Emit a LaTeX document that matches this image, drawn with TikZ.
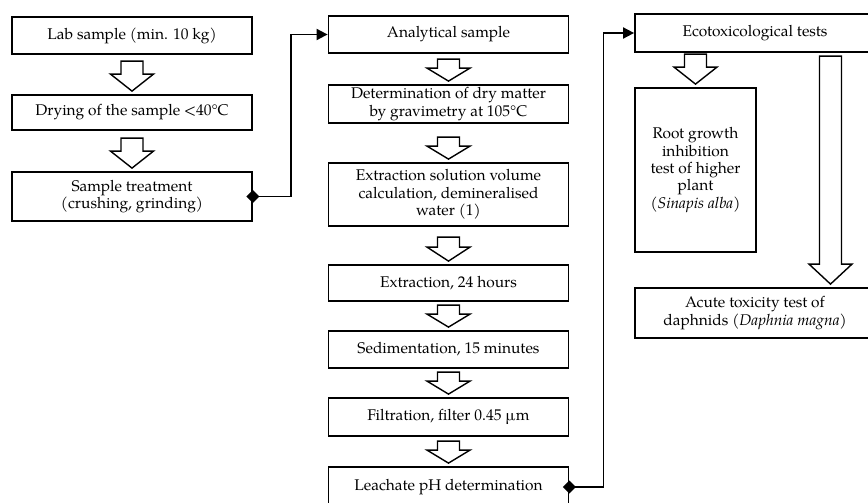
\documentclass[tikz,border=0pt]{standalone}
\usepackage{fontspec}
\setmainfont{TeX Gyre Pagella}
\usetikzlibrary{arrows.meta,calc}
\newcommand\blk[4]{% #1 x reference, #2 lower node anchor, #3 total length, #4 head length
  \draw[blkstyle] let \p1=(#1), \p2=(#2) in
    (\x1-11pt,\y2+3pt+#3) -- (\x1+11pt,\y2+3pt+#3) -- (\x1+11pt,\y2+3pt+#4)
    -- (\x1+21.5pt,\y2+3pt+#4) -- (\x1,\y2+3pt) -- (\x1-21.5pt,\y2+3pt+#4)
    -- (\x1-11pt,\y2+3pt+#4) -- cycle;}
\begin{document}
\begin{tikzpicture}[x=1pt,y=-1pt,
  box/.style={draw,line width=1.8pt,inner sep=0pt,align=center,
    font=\fontsize{15.5}{17.3}\selectfont},
  blkstyle/.style={draw,fill=white,line width=1.4pt,line join=miter},
  conn/.style={line width=1.8pt,-{Triangle[length=11pt,width=11pt]}},
  dmd/.style={fill=black}]
\useasboundingbox (0,0) rectangle (868,503);
\clip (0,0) rectangle (868,503);
% left column
\node[box,minimum width=240pt,minimum height=37pt] (L1) at (132,35.5) {Lab sample (min. 10 kg)};
\node[box,minimum width=240pt,minimum height=35pt] (L2) at (132,112.5) {Drying of the sample <40°C};
\node[box,minimum width=240pt,minimum height=49pt] (L3) at (132,196.5) {Sample treatment\\(crushing, grinding)};
% middle column
\node[box,minimum width=240pt,minimum height=37pt] (M1) at (448.5,34.5) {Analytical sample};
\node[box,minimum width=240pt,minimum height=38pt] (M2) at (448.5,104) {Determination of dry matter\\by gravimetry at 105°C};
\node[box,minimum width=240pt,minimum height=63pt] (M3) at (448.5,194.5) {Extraction solution volume\\calculation, demineralised\\water (1)};
\node[box,minimum width=240pt,minimum height=36pt] (M4) at (448.5,283) {Extraction, 24 hours};
\node[box,minimum width=240pt,minimum height=37pt] (M5) at (448.5,349.5) {Sedimentation, 15 minutes};
\node[box,minimum width=240pt,minimum height=38pt] (M6) at (448.5,417) {Filtration, filter 0.45 µm};
\node[box,minimum width=240pt,minimum height=40pt] (M7) at (448.5,487) {Leachate pH determination};
% right column
\node[box,minimum width=240pt,minimum height=38pt] (E1) at (755,33) {Ecotoxicological tests};
\node[box,minimum width=121pt,minimum height=164pt] (R1) at (695.5,170) {Root growth\\inhibition\\test of higher\\plant\\\textit{(Sinapis alba)}};
\node[box,minimum width=240pt,minimum height=50pt] (A1) at (755,313) {Acute toxicity test of\\daphnids \textit{(Daphnia magna)}};
\coordinate (longx) at (830.5,0);
% block arrows
\blk{L1.south}{L2.north}{30pt}{17pt}
\blk{L2.south}{L3.north}{30pt}{17pt}
\blk{M1.south}{M2.north}{22pt}{13pt}
\blk{M2.south}{M3.north}{22pt}{13pt}
\blk{M3.south}{M4.north}{24pt}{14pt}
\blk{M4.south}{M5.north}{22pt}{13pt}
\blk{M5.south}{M6.north}{22pt}{13pt}
\blk{M6.south}{M7.north}{22pt}{13pt}
\blk{R1.north}{R1.north}{30pt}{17pt}
\blk{longx}{A1.north}{228pt}{20pt}
% connectors
\draw[conn] (L3.east) -- ++(38,0) |- (M1.west);
\draw[conn] (M7.east) -- ++(34,0) |- (E1.west);
\fill[dmd,shift={(L3.east)}] (-6.5,0) -- (0,6.5) -- (6.5,0) -- (0,-6.5) -- cycle;
\fill[dmd,shift={(M7.east)}] (-6.5,0) -- (0,6.5) -- (6.5,0) -- (0,-6.5) -- cycle;
\end{tikzpicture}
\end{document}
